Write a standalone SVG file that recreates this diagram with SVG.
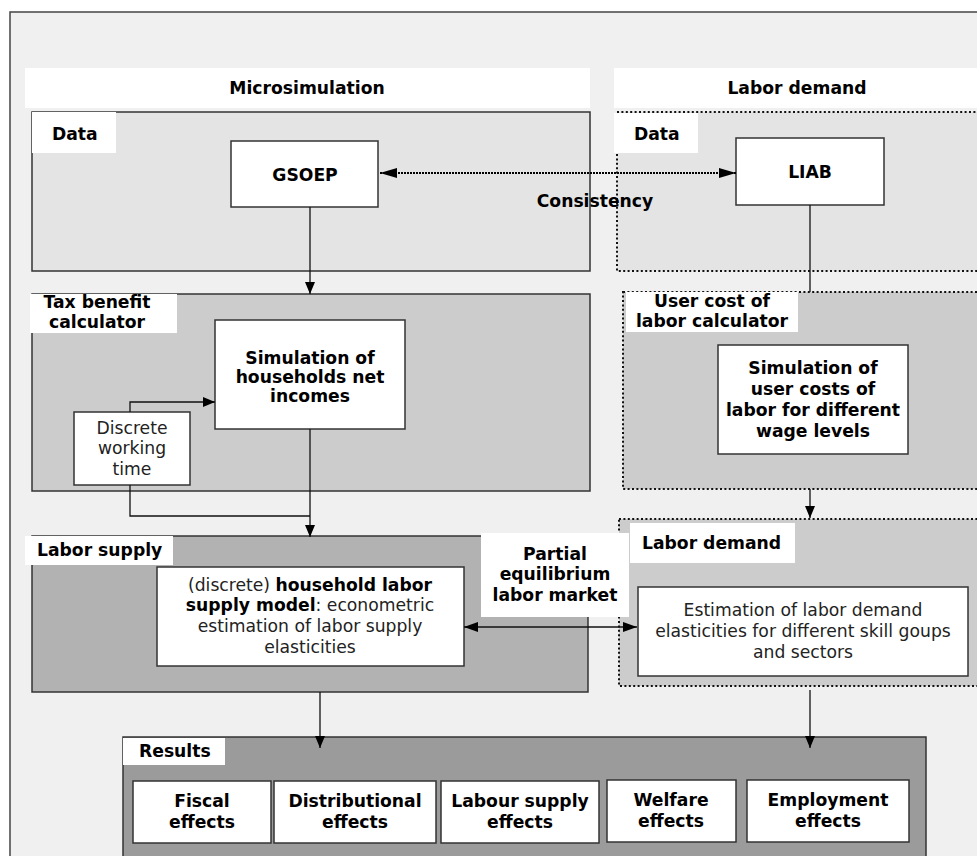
<svg xmlns="http://www.w3.org/2000/svg" width="977" height="856" viewBox="0 0 977 856">
<defs>
<style>
.b{font-family:"DejaVu Sans",Verdana,sans-serif;font-weight:bold;font-size:17.2px;fill:#000}
.n{font-family:"DejaVu Sans",Verdana,sans-serif;font-size:17.2px;fill:#222}
.box{fill:#fff;stroke:#333;stroke-width:1.5}
.sol{stroke:#333;stroke-width:1.5}
.dot{stroke:#111;stroke-width:2;stroke-dasharray:2 2.4}
.lab{fill:#fff}
.ln{fill:none;stroke:#111;stroke-width:1.3}
</style>
<marker id="ah" markerUnits="userSpaceOnUse" markerWidth="12" markerHeight="10" refX="12" refY="5" orient="auto">
<path d="M0,0 L12,5 L0,10 z" fill="#000"/>
</marker>
<marker id="ahc" markerUnits="userSpaceOnUse" markerWidth="17" markerHeight="10" refX="17" refY="5" orient="auto-start-reverse">
<path d="M0,0 L17,5 L0,10 z" fill="#000"/>
</marker>
<marker id="ahd" markerUnits="userSpaceOnUse" markerWidth="14" markerHeight="10" refX="14" refY="5" orient="auto-start-reverse">
<path d="M0,0 L14,5 L0,10 z" fill="#000"/>
</marker>
</defs>
<rect x="0" y="0" width="977" height="856" fill="#fff"/>
<rect x="10" y="12" width="1000" height="900" fill="#f0f0f0" stroke="#444" stroke-width="1.5"/>

<g id="hdr-micro">
<rect x="25" y="68" width="565" height="40" class="lab"/>
<text x="307" y="94" text-anchor="middle" class="b">Microsimulation</text>
</g>
<g id="hdr-demand">
<rect x="614" y="68" width="380" height="40" class="lab"/>
<text x="797" y="94" text-anchor="middle" class="b">Labor demand</text>
</g>

<g id="data-left">
<rect x="32" y="112" width="558" height="159" fill="#e4e4e4" class="sol"/>
<rect x="32" y="112" width="84" height="41" class="lab"/>
<text x="52" y="140" class="b">Data</text>
</g>
<g id="gsoep">
<rect x="231" y="141" width="147" height="66" class="box"/>
<text x="305" y="181" text-anchor="middle" class="b">GSOEP</text>
</g>

<g id="data-right">
<rect x="617" y="112" width="380" height="159" fill="#e4e4e4" class="dot"/>
<rect x="614" y="113" width="84" height="40" class="lab"/>
<text x="634" y="140" class="b">Data</text>
</g>
<g id="liab">
<rect x="736" y="138" width="148" height="67" class="box"/>
<text x="810" y="178" text-anchor="middle" class="b">LIAB</text>
</g>

<g id="taxben">
<rect x="32" y="294" width="558" height="197" fill="#cccccc" class="sol"/>
<rect x="30" y="294" width="147" height="39" class="lab"/>
<text x="97" y="308" text-anchor="middle" class="b">Tax benefit</text>
<text x="97" y="328" text-anchor="middle" class="b">calculator</text>
</g>
<g id="sim-hh">
<rect x="215" y="320" width="190" height="109" class="box"/>
<text x="310" y="364" text-anchor="middle" class="b">Simulation of</text>
<text x="310" y="383" text-anchor="middle" class="b">households net</text>
<text x="310" y="402" text-anchor="middle" class="b">incomes</text>
</g>
<g id="discrete">
<rect x="74" y="412" width="116" height="73" class="box"/>
<text x="132" y="434" text-anchor="middle" class="n">Discrete</text>
<text x="132" y="454" text-anchor="middle" class="n">working</text>
<text x="132" y="475" text-anchor="middle" class="n">time</text>
</g>

<g id="usercost">
<rect x="623" y="292" width="380" height="197" fill="#cccccc" class="dot"/>
<rect x="626" y="292" width="172" height="40" class="lab"/>
<text x="712" y="307" text-anchor="middle" class="b">User cost of</text>
<text x="712" y="327" text-anchor="middle" class="b">labor calculator</text>
</g>
<g id="sim-uc">
<rect x="718" y="345" width="190" height="109" class="box"/>
<text x="813" y="374" text-anchor="middle" class="b">Simulation of</text>
<text x="813" y="395" text-anchor="middle" class="b">user costs of</text>
<text x="813" y="416" text-anchor="middle" class="b">labor for different</text>
<text x="813" y="437" text-anchor="middle" class="b">wage levels</text>
</g>

<g id="laborsupply">
<rect x="32" y="536" width="556" height="156" fill="#b2b2b2" class="sol"/>
<rect x="25" y="536" width="148" height="29" class="lab"/>
<text x="37" y="556" class="b">Labor supply</text>
</g>
<g id="hh-model">
<rect x="157" y="567" width="307" height="99" class="box"/>
<text x="310" y="591" text-anchor="middle" class="n">(discrete) <tspan class="b">household labor</tspan></text>
<text x="310" y="611" text-anchor="middle" class="n"><tspan class="b">supply model</tspan>: econometric</text>
<text x="310" y="632" text-anchor="middle" class="n">estimation of labor supply</text>
<text x="310" y="653" text-anchor="middle" class="n">elasticities</text>
</g>

<g id="labordemand">
<rect x="619" y="519" width="380" height="167" fill="#cccccc" class="dot"/>
<rect x="630" y="523" width="165" height="40" class="lab"/>
<text x="642" y="549" class="b">Labor demand</text>
</g>
<g id="estimation">
<rect x="638" y="587" width="330" height="89" class="box"/>
<text x="803" y="616" text-anchor="middle" class="n">Estimation of labor demand</text>
<text x="803" y="637" text-anchor="middle" class="n">elasticities for different skill goups</text>
<text x="803" y="658" text-anchor="middle" class="n">and sectors</text>
</g>

<g id="partial-eq">
<rect x="481" y="533" width="148" height="84" class="lab"/>
<text x="555" y="560" text-anchor="middle" class="b">Partial</text>
<text x="555" y="580" text-anchor="middle" class="b">equilibrium</text>
<text x="555" y="601" text-anchor="middle" class="b">labor market</text>
</g>

<g id="results">
<rect x="123" y="737" width="803" height="140" fill="#9b9b9b" class="sol"/>
<rect x="123" y="738" width="102" height="27" class="lab"/>
<text x="139" y="757" class="b">Results</text>
</g>
<g id="fiscal">
<rect x="133" y="781" width="138" height="62" class="box"/>
<text x="202" y="807" text-anchor="middle" class="b">Fiscal</text>
<text x="202" y="828" text-anchor="middle" class="b">effects</text>
</g>
<g id="distributional">
<rect x="274" y="781" width="162" height="62" class="box"/>
<text x="355" y="807" text-anchor="middle" class="b">Distributional</text>
<text x="355" y="828" text-anchor="middle" class="b">effects</text>
</g>
<g id="laboursupply">
<rect x="441" y="781" width="158" height="62" class="box"/>
<text x="520" y="807" text-anchor="middle" class="b">Labour supply</text>
<text x="520" y="828" text-anchor="middle" class="b">effects</text>
</g>
<g id="welfare">
<rect x="607" y="780" width="129" height="62" class="box"/>
<text x="671" y="806" text-anchor="middle" class="b">Welfare</text>
<text x="671" y="827" text-anchor="middle" class="b">effects</text>
</g>
<g id="employment">
<rect x="747" y="780" width="162" height="62" class="box"/>
<text x="828" y="806" text-anchor="middle" class="b">Employment</text>
<text x="828" y="827" text-anchor="middle" class="b">effects</text>
</g>

<g id="connectors">
<line x1="380" y1="173" x2="736" y2="173" fill="none" stroke="#000" stroke-width="2" stroke-dasharray="2 1" marker-start="url(#ahc)" marker-end="url(#ahc)"/>
<text x="595" y="207" text-anchor="middle" class="b">Consistency</text>
<line x1="810" y1="205" x2="810" y2="292" class="ln"/>
<line x1="310" y1="207" x2="310" y2="294" class="ln" marker-end="url(#ah)"/>
<polyline points="130,412 130,402 215,402" class="ln" marker-end="url(#ah)"/>
<line x1="310" y1="429" x2="310" y2="537" class="ln" marker-end="url(#ah)"/>
<polyline points="130,485 130,516 310,516" class="ln"/>
<line x1="810" y1="489" x2="810" y2="518" class="ln" marker-end="url(#ah)"/>
<line x1="464" y1="627" x2="637" y2="627" class="ln" marker-start="url(#ahd)" marker-end="url(#ahd)"/>
<line x1="320" y1="692" x2="320" y2="748" class="ln" marker-end="url(#ah)"/>
<line x1="810" y1="690" x2="810" y2="748" class="ln" marker-end="url(#ah)"/>
</g>
</svg>
